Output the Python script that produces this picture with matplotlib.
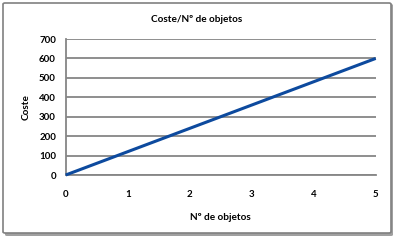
import matplotlib.pyplot as plt
from matplotlib.patches import FancyBboxPatch

objetos = [0, 1, 2, 3, 4, 5]
coste = [0, 120, 240, 360, 480, 600]
yticks = [0, 100, 200, 300, 400, 500, 600, 700]

plt.rcParams['font.family'] = ['Lato', 'DejaVu Sans']

W, H = 399, 243
fig = plt.figure(figsize=(W / 100, H / 100), dpi=100)

# marco del grafico con sombra
shadow = FancyBboxPatch((5 / W, 1 - 236 / H), 388 / W, 232 / H,
                        boxstyle="round,pad=0,rounding_size=0.005",
                        transform=fig.transFigure, fc="#a0a0a0", ec="none", zorder=0)
frame = FancyBboxPatch((3 / W, 1 - 233 / H), 388 / W, 230 / H,
                       boxstyle="round,pad=0,rounding_size=0.005",
                       transform=fig.transFigure, fc="white", ec="#808080", lw=1.2, zorder=1)
fig.patches.extend([shadow, frame])

ax = fig.add_axes([65.7 / W, 1 - 175 / H, 310 / W, 136 / H])
ax.set_zorder(2)
ax.plot(objetos, coste, color="#0d4a9e", lw=2.2, solid_capstyle="butt", clip_on=False, zorder=3)

ax.set_xlim(0, 5)
ax.set_ylim(0, 700)
ax.set_xticks(objetos)
ax.set_yticks(yticks)
ax.yaxis.grid(True, color="#868686", lw=1.3)
ax.set_axisbelow(True)
for s in ["top", "right"]:
    ax.spines[s].set_visible(False)
ax.spines["left"].set_color("#868686")
ax.spines["bottom"].set_color("#868686")
ax.spines["left"].set_linewidth(1.3)
ax.spines["bottom"].set_linewidth(1.3)
ax.tick_params(length=0, labelsize=7, labelcolor="black")
ax.tick_params(axis="x", pad=11)
ax.tick_params(axis="y", pad=7)
for lab in ax.get_xticklabels() + ax.get_yticklabels():
    lab.set_fontweight("bold")

fig.text(197 / W, 1 - 20 / H, "Coste/Nº de objetos", fontsize=7.2, fontweight="bold",
         ha="center", va="center")
ax.set_xlabel("Nº de objetos", fontsize=7.2, fontweight="bold", labelpad=10)
ax.set_ylabel("Coste", fontsize=7.2, fontweight="bold", labelpad=6)

fig.savefig("out.png", dpi=100)
